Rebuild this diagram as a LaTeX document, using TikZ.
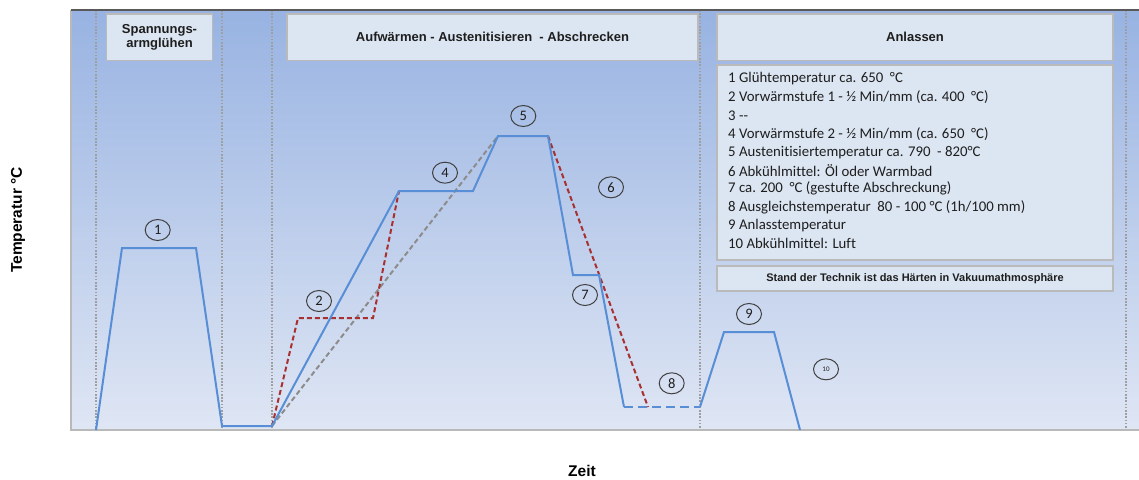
\documentclass[tikz,border=0pt]{standalone}
\usepackage{fontspec}
\setmainfont{Carlito}[Ligatures=NoCommon]
\newfontfamily\hdr{Liberation Sans}
\usetikzlibrary{shapes.geometric}
\definecolor{bgtop}{RGB}{152,179,226}
\definecolor{bgbot}{RGB}{223,230,244}
\definecolor{boxfill}{RGB}{220,230,242}
\definecolor{boxline}{RGB}{186,186,186}
\definecolor{curve}{RGB}{88,142,213}
\definecolor{reddash}{RGB}{168,48,48}
\definecolor{graydash}{RGB}{140,140,140}
\definecolor{txt}{RGB}{30,30,30}
\begin{document}
\begin{tikzpicture}[x=1pt,y=-1pt,
  box/.style={draw=boxline, line width=1.3, fill=boxfill, inner sep=0, align=center,
    font=\hdr\bfseries\fontsize{13}{15}\selectfont, text=txt},
  sep/.style={draw=gray!75, dash pattern=on 1.6 off 1.6, line width=1.6},
  curveline/.style={draw=curve, line width=2, line join=miter},
  reddashed/.style={draw=reddash, line width=2, dash pattern=on 5 off 3},
  graydashed/.style={draw=graydash, line width=2, dash pattern=on 5 off 3},
  num/.style={ellipse, draw=black!75, line width=1, minimum width=25, minimum height=21,
    inner sep=0, text=txt, font=\fontsize{14.5}{14.5}\selectfont},
  listline/.style={anchor=west, inner sep=0, text=txt, font=\fontsize{14.8}{16}\selectfont},
  axislabel/.style={font=\hdr\bfseries\fontsize{15.5}{15.5}\selectfont, text=black}]
\useasboundingbox (0,0) rectangle (1139,479);
% background of plot area
\fill[top color=bgtop, bottom color=bgbot] (71,10) rectangle (1139,430);
% separators
\foreach \xx in {96,222,272,700,1126} \draw[sep] (\xx,10) -- (\xx,430);
% borders
\draw[gray!55, line width=1.5] (71,10) -- (71,430) -- (1139,430);
\draw[black!65, line width=1.5] (71,10) -- (1139,10);
% header boxes
\node[box, minimum width=105.6, minimum height=46.7] (b1) at (159.5,37.3) {Spannungs-\\[-1pt]armglühen};
\node[box, minimum width=411, minimum height=46.7] (b2) at (492.5,37.3) {Aufwärmen - Austenitisieren\ \ - Abschrecken};
\node[box, minimum width=396, minimum height=46.7] (b3) at (915,37.3) {Anlassen};
\node[box, minimum width=396, minimum height=195] (lst) at (915,162.5) {};
\node[box, minimum width=396, minimum height=25, font=\hdr\bfseries\fontsize{11}{12}\selectfont] (stand) at (915,278.5) {Stand der Technik ist das Härten in Vakuumathmosphäre};
% list text
\node[listline] (l1) at (728,79.0) {1 Glühtemperatur ca. 650\ \ °C};
\node[listline] (l2) at (728,97.3) {2 Vorwärmstufe 1 - ½ Min/mm (ca. 400\ \ °C)};
\node[listline] (l3) at (728,115.6) {3 -{}-};
\node[listline] (l4) at (728,133.9) {4 Vorwärmstufe 2 - ½ Min/mm (ca. 650\ \ °C)};
\node[listline] (l5) at (728,152.2) {5 Austenitisiertemperatur ca. 790\ \ - 820°C};
\node[listline] (l6) at (728,170.5) {6 Abkühlmittel: Öl oder Warmbad};
\node[listline] (l7) at (728,188.8) {7 ca. 200\ \ °C (gestufte Abschreckung)};
\node[listline] (l8) at (728,207.1) {8 Ausgleichstemperatur\ \ 80 - 100 °C (1h/100 mm)};
\node[listline] (l9) at (728,225.4) {9 Anlasstemperatur};
\node[listline] (l10) at (728,243.7) {10 Abkühlmittel: Luft};
% curves
\draw[graydashed] (272,426) -- (498,136);
\draw[reddashed] (272,426) -- (298,318) -- (373,318) -- (399,191);
\draw[reddashed] (548,136) -- (648,407);
\draw[curveline] (96,430) -- (122,248) -- (196,248) -- (222,426) -- (272,426)
  -- (399,191) -- (473,191) -- (498,136) -- (548,136) -- (573,275) -- (599,275) -- (624,407);
\draw[draw=curve, line width=2, dash pattern=on 9 off 5] (624,407) -- (700,407);
\draw[curveline] (700,407) -- (724,332) -- (774,332) -- (800,430);
% numbered markers
\node[num] (n1) at (157.7,230) {1};
\node[num] (n2) at (319,301) {2};
\node[num] (n4) at (445,172.7) {4};
\node[num] (n5) at (523.3,116) {5};
\node[num] (n6) at (611,187.3) {6};
\node[num] (n7) at (585,295) {7};
\node[num] (n8) at (671.7,383.3) {8};
\node[num] (n9) at (749,314) {9};
\node[num, font=\fontsize{7}{7}\selectfont] (n10) at (826,369.3) {10};
% axis labels
\node[axislabel, rotate=90] (ylab) at (18,220) {Temperatur °C};
\node[axislabel] (xlab) at (582,471) {Zeit};
\end{tikzpicture}
\end{document}
